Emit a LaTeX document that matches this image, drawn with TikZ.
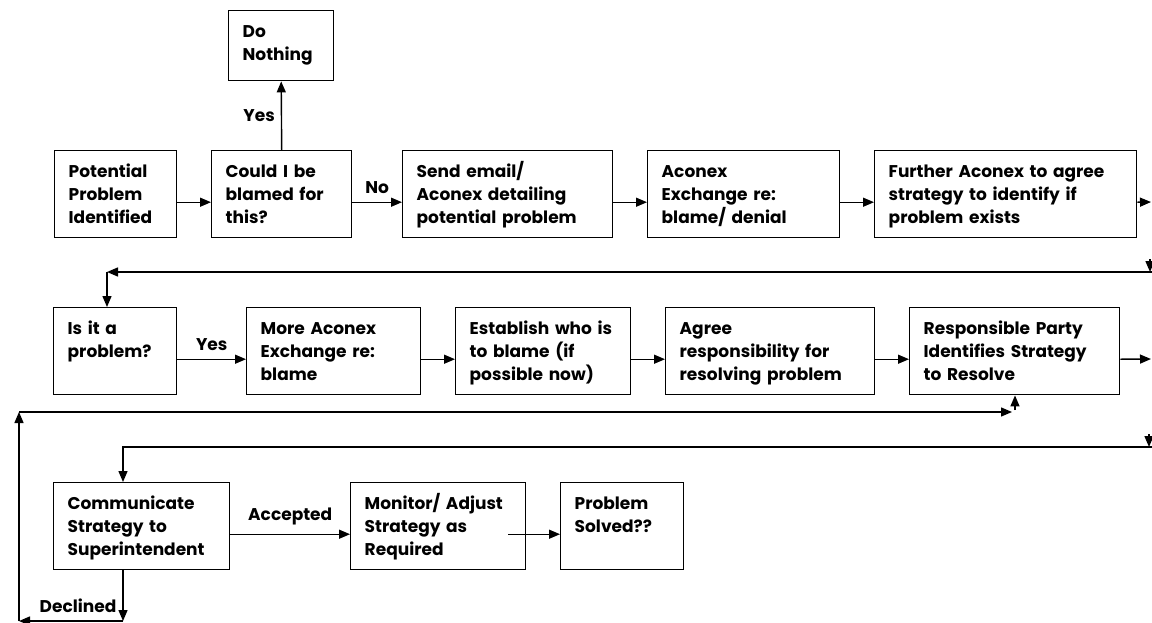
\documentclass[tikz,border=0pt]{standalone}
\usepackage{fontspec}
\setmainfont{Poppins}
\usetikzlibrary{arrows.meta}
\usetikzlibrary{positioning}
\tikzset{stage/.style = {draw, line width = 1.4pt, anchor = north west, inner xsep = 14pt, inner ysep = 0pt, align = left, text height = 27pt, text depth = 60pt, font = \fontsize{17}{23}\selectfont\bfseries}}
\tikzset{flow/.style = {line width = 1.4pt, -{Triangle[length = 11pt, width = 9pt]}}}
\tikzset{tag/.style = {font = \fontsize{17}{20}\selectfont\bfseries, inner sep = 2pt}}

\begin{document}
\begin{tikzpicture}[x = 1pt, y = -1pt]
      \useasboundingbox (0, 0) rectangle (1152, 622);

      % first row
      \node [stage, text width = 94pt] (pot) at (54, 150) {Potential\\Problem\\Identified};
      \node [stage, text width = 112pt] (blame) at (211, 150) {Could I be\\blamed for\\this?};
      \node [stage, text width = 77pt, text depth = 43pt] (nothing) at (228, 10) {Do\\Nothing};
      \node [stage, text width = 182pt] (email) at (402, 150) {Send email/\\Aconex detailing\\potential problem};
      \node [stage, text width = 164pt] (exch) at (647, 150) {Aconex\\Exchange re:\\blame/ denial};
      \node [stage, text width = 234pt] (further) at (874, 150) {Further Aconex to agree\\strategy to identify if\\problem exists};

      \draw [flow] ([yshift = -8pt]pot.east) -- ([yshift = -8pt]blame.west);
      \draw [flow] (blame.north) -- node [tag, left = 4pt] (yes1) {Yes} (nothing.south);
      \draw [flow] ([yshift = -8pt]blame.east) -- node [tag, above = 6pt] (no1) {No} ([yshift = -8pt]email.west);
      \draw [flow] ([yshift = -8pt]email.east) -- ([yshift = -8pt]exch.west);
      \draw [flow] ([yshift = -8pt]exch.east) -- ([yshift = -8pt]further.west);
      \coordinate (out1) at (1151, 202);
      \draw [flow] ([yshift = -8pt]further.east) -- (out1);

      % back to the left
      \coordinate (in2) at (1150, 259);
      \coordinate (r2) at (1152, 272);
      \coordinate (l2) at (107, 272);
      \draw [flow] (in2) -- (in2 |- r2);
      \draw [flow] (r2) -- (l2);

      % second row
      \node [stage, text width = 95pt] (isprob) at (53, 307) {Is it a\\problem?};
      \node [stage, text width = 146pt] (more) at (246, 307) {More Aconex\\Exchange re:\\blame};
      \node [stage, text width = 147pt] (estab) at (455, 307) {Establish who is\\to blame (if\\possible now)};
      \node [stage, text width = 181pt] (agree) at (665, 307) {Agree\\responsibility for\\resolving problem};
      \node [stage, text width = 182pt] (resp) at (909, 307) {Responsible Party\\Identifies Strategy\\to Resolve};

      \draw [flow] (l2) -- (l2 |- isprob.north);
      \draw [flow] ([yshift = -8pt]isprob.east) -- node [tag, above = 6pt] (yes2) {Yes} ([yshift = -8pt]more.west);
      \draw [flow] ([yshift = -8pt]more.east) -- ([yshift = -8pt]estab.west);
      \draw [flow] ([yshift = -8pt]estab.east) -- ([yshift = -8pt]agree.west);
      \draw [flow] ([yshift = -8pt]agree.east) -- ([yshift = -8pt]resp.west);
      \coordinate (out2) at (1151, 359);
      \draw [flow] ([yshift = -8pt]resp.east) -- (out2);

      % third row
      \node [stage, text width = 148pt] (comm) at (53, 482) {Communicate\\Strategy to\\Superintendent};
      \node [stage, text width = 147pt] (monitor) at (350, 482) {Monitor/ Adjust\\Strategy as\\Required};
      \node [stage, text width = 95pt] (solved) at (560, 482) {Problem\\Solved??};

      \coordinate (in3) at (1149, 434);
      \coordinate (r3) at (1152, 447);
      \coordinate (c4) at (123, 621);
      \draw [flow] (in3) -- (in3 |- r3);
      \draw [flow] (r3) -| (comm.north -| c4);
      \draw [flow] ([yshift = -8pt]comm.east) -- node [tag, above = 6pt] (acc) {Accepted} ([yshift = -8pt]monitor.west);
      \draw [flow] ([xshift = -18pt, yshift = -8pt]monitor.east) -- ([yshift = -8pt]solved.west);

      % declined loop
      \coordinate (b4) at (19, 621);
      \coordinate (t4) at (19, 412);
      \coordinate (r4) at (1012, 412);
      \coordinate (u4) at (1015, 410);
      \draw [flow] (c4 |- comm.south) -- node [tag, left = 4pt, pos = 0.7] (decl) {Declined} (c4);
      \draw [flow] (c4) -- (b4);
      \draw [flow] (b4) -- (t4);
      \draw [flow] (t4) -- (r4);
      \draw [flow] (u4) -- (u4 |- resp.south);
\end{tikzpicture}
\end{document}
